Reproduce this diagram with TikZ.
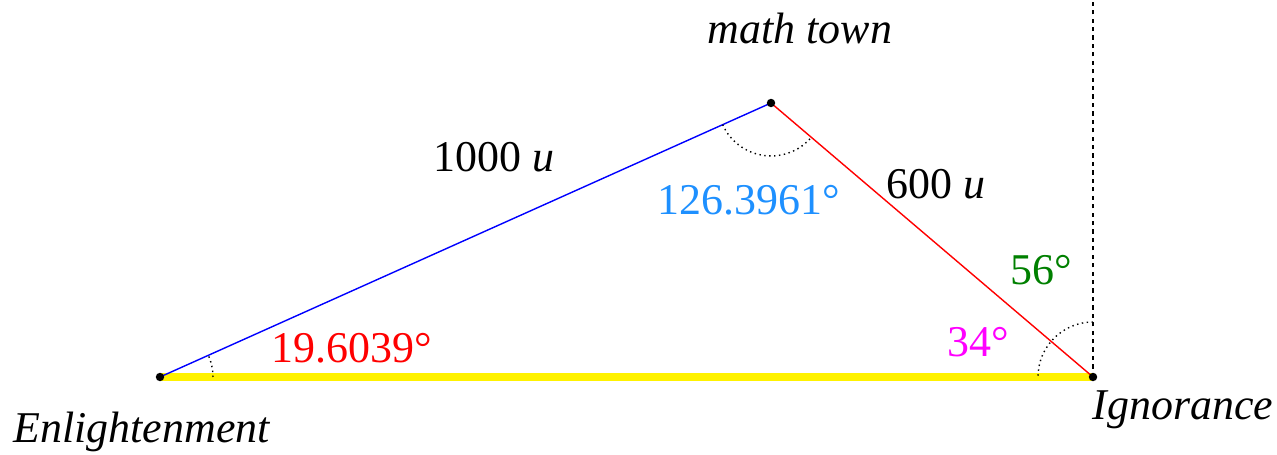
\documentclass[tikz,border=0pt]{standalone}
\usepackage{fontspec}
\setmainfont{Liberation Serif}
\usepackage{tikz}
\usetikzlibrary{angles,quotes,calc}
\definecolor{AzulCielo}{RGB}{30,144,255}
\definecolor{VerdeAng}{RGB}{0,128,0}
\definecolor{MagentaAng}{RGB}{255,0,255}

\begin{document}
\begin{tikzpicture}[
  lbl/.style={font=\fontsize{25}{30}\selectfont},
  arco/.style={draw,dotted,line width=0.8pt,angle radius=1.06cm}]
  \useasboundingbox (-3.2,-1.56) rectangle (22.34,7.54);
  \coordinate (E) at (0,0);
  \coordinate (M) at (12.22,5.48);
  \coordinate (I) at (18.66,0);
  \coordinate (T) at (18.66,7.54);
  \draw[yellow,line width=4pt] (E)--(I);
  \draw[blue,line width=0.8pt] (E)--(M);
  \draw[red,line width=0.8pt] (M)--(I);
  \draw[dash pattern=on 2.4pt off 2.4pt,line width=0.8pt] (I)--(T);
  \pic[arco] {angle=I--E--M};
  \pic[arco] {angle=E--M--I};
  \pic[arco,angle radius=1.1cm] {angle=T--I--E};
  \fill (E) circle (2.4pt);
  \fill (M) circle (2.4pt);
  \fill (I) circle (2.4pt);
  \node[lbl] (nE) at (-0.36,-1.1) {\textit{Enlightenment}};
  \node[lbl] (nM) at (12.8,6.98) {\textit{math town}};
  \node[lbl] (nI) at (20.46,-0.66) {\textit{Ignorance}};
  \node[lbl] (lEM) at (6.68,4.4) {1000 \textit{u}};
  \node[lbl] (lMI) at (15.52,3.86) {600 \textit{u}};
  \node[lbl,AzulCielo] (aM) at (11.78,3.54) {126.3961°};
  \node[lbl,red] (aE) at (3.84,0.58) {19.6039°};
  \node[lbl,MagentaAng] (aI) at (16.36,0.7) {34°};
  \node[lbl,VerdeAng] (aT) at (17.62,2.14) {56°};
\end{tikzpicture}
\end{document}
